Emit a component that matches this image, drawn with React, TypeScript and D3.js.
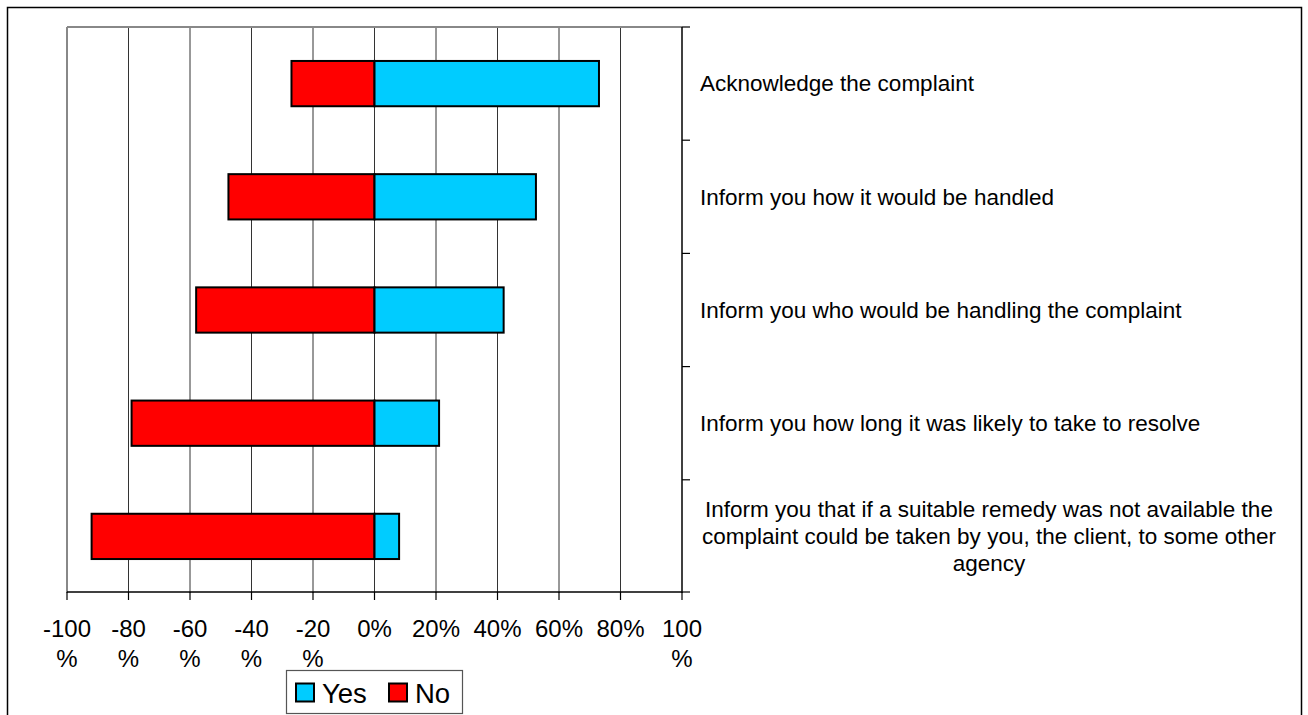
import React, { useEffect } from "react";
import * as d3 from "d3";

const categories = [
  "Acknowledge the complaint",
  "Inform you how it would be handled",
  "Inform you who would be handling the complaint",
  "Inform you how long it was likely to take to resolve",
  "Inform you that if a suitable remedy was not available the complaint could be taken by you, the client, to some other agency",
];
const yesValues = [73, 52.5, 42, 21, 8];
const noValues = [27, 47.5, 58, 79, 92];
const tickValues = [-100, -80, -60, -40, -20, 0, 20, 40, 60, 80, 100];
const tickLabels = ["-100%", "-80%", "-60%", "-40%", "-20%", "0%", "20%", "40%", "60%", "80%", "100%"];
const seriesNames = ["Yes", "No"];
const seriesColors = ["#00CCFF", "#FF0000"];

const FONT = "'Liberation Sans', Arial, Helvetica, sans-serif";

let ctx: CanvasRenderingContext2D | null = null;
function measure(text: string, size: number): number {
  if (!ctx) ctx = document.createElement("canvas").getContext("2d");
  if (!ctx) return text.length * size * 0.5;
  ctx.font = `${size}px ${FONT}`;
  return ctx.measureText(text).width;
}
function wrapWords(text: string, size: number, maxW: number): string[] {
  const words = text.split(" ");
  const lines: string[] = [];
  let cur = "";
  for (const w of words) {
    const t = cur ? cur + " " + w : w;
    if (measure(t, size) > maxW && cur) {
      lines.push(cur);
      cur = w;
    } else cur = t;
  }
  if (cur) lines.push(cur);
  return lines;
}
function wrapTick(label: string, size: number, maxW: number): string[] {
  if (measure(label, size) > maxW) return [label.replace("%", ""), "%"];
  return [label];
}

export default function App() {
  useEffect(() => {
    document.body.style.margin = "0";
    document.body.style.overflow = "hidden";
  }, []);

  const W = 1308, H = 715;
  const left = 67, right = 682, top = 27, bottom = 593;
  const x = d3.scaleLinear().domain([-100, 100]).range([left, right]);
  const y = d3.scaleBand<string>().domain(categories).range([top, bottom]).paddingInner(0.6).paddingOuter(0.3);
  const boundaries = d3.range(categories.length + 1).map((i) => top + i * ((bottom - top) / categories.length));

  const catSize = 22.5;
  const tickSize = 24;
  const legSize = 27.5;

  const legendX = [295, 388];

  return (
    <svg width={W} height={H} style={{ position: "absolute", left: 0, top: 0, fontFamily: FONT }}>
      <rect x={0} y={0} width={W} height={H} fill="#fff" />
      {/* outer border */}
      <rect x={7.5} y={7.5} width={1294} height={740} fill="none" stroke="#000" strokeWidth={1.5} />
      {/* grid lines */}
      {tickValues.slice(1, -1).map((v) => (
        <line key={"g" + v} x1={x(v)} x2={x(v)} y1={top} y2={bottom} stroke="#333" strokeWidth={1} />
      ))}
      {/* plot border top and left */}
      <line x1={left} x2={right} y1={top} y2={top} stroke="#888" strokeWidth={2} />
      <line x1={left} x2={left} y1={top} y2={bottom} stroke="#888" strokeWidth={2} />
      {/* bars */}
      {categories.map((c, i) => {
        const by = y(c) as number;
        const bh = y.bandwidth();
        return (
          <g key={"b" + i}>
            <rect x={x(-noValues[i])} y={by} width={x(0) - x(-noValues[i])} height={bh} fill={seriesColors[1]} stroke="#000" strokeWidth={2} />
            <rect x={x(0)} y={by} width={x(yesValues[i]) - x(0)} height={bh} fill={seriesColors[0]} stroke="#000" strokeWidth={2} />
          </g>
        );
      })}
      {/* bottom axis */}
      <line x1={left} x2={right} y1={bottom - 1} y2={bottom - 1} stroke="#000" strokeWidth={1.5} />
      {tickValues.map((v, i) => {
        const lines = wrapTick(tickLabels[i], tickSize, 54);
        return (
          <g key={"t" + v}>
            <line x1={x(v)} x2={x(v)} y1={bottom - 1} y2={bottom + 7} stroke="#000" strokeWidth={1.2} />
            {lines.map((l, j) => (
              <text key={j} x={x(v)} y={637 + j * 30} textAnchor="middle" fontSize={tickSize} fill="#000">
                {l}
              </text>
            ))}
          </g>
        );
      })}
      {/* right category axis */}
      <line x1={right} x2={right} y1={top} y2={bottom} stroke="#000" strokeWidth={1.5} />
      {boundaries.map((b, i) => (
        <line key={"rt" + i} x1={right} x2={right + 8} y1={b - (i === boundaries.length - 1 ? 1 : 0)} y2={b - (i === boundaries.length - 1 ? 1 : 0)} stroke="#000" strokeWidth={1.2} />
      ))}
      {categories.map((c, i) => {
        const cy = (y(c) as number) + y.bandwidth() / 2;
        const lines = wrapWords(c, catSize, 600);
        const lh = 27;
        const multi = lines.length > 1;
        return (
          <g key={"c" + i}>
            {lines.map((l, j) => (
              <text
                key={j}
                x={multi ? 989 : 700}
                y={cy + (j - (lines.length - 1) / 2) * lh}
                dy="0.35em"
                textAnchor={multi ? "middle" : "start"}
                fontSize={catSize}
                fill="#000"
              >
                {l}
              </text>
            ))}
          </g>
        );
      })}
      {/* legend */}
      <rect x={286.5} y={670.5} width={176} height={43} fill="#fff" stroke="#555" strokeWidth={1.2} />
      {seriesNames.map((s, i) => {
        const lx = legendX[i];
        return (
          <g key={"l" + i}>
            <rect x={lx + 1} y={683.5} width={18} height={18} fill={seriesColors[i]} stroke="#000" strokeWidth={2} />
            <text x={lx + 27} y={702.5} fontSize={legSize} fill="#000">
              {s}
            </text>
          </g>
        );
      })}
    </svg>
  );
}
